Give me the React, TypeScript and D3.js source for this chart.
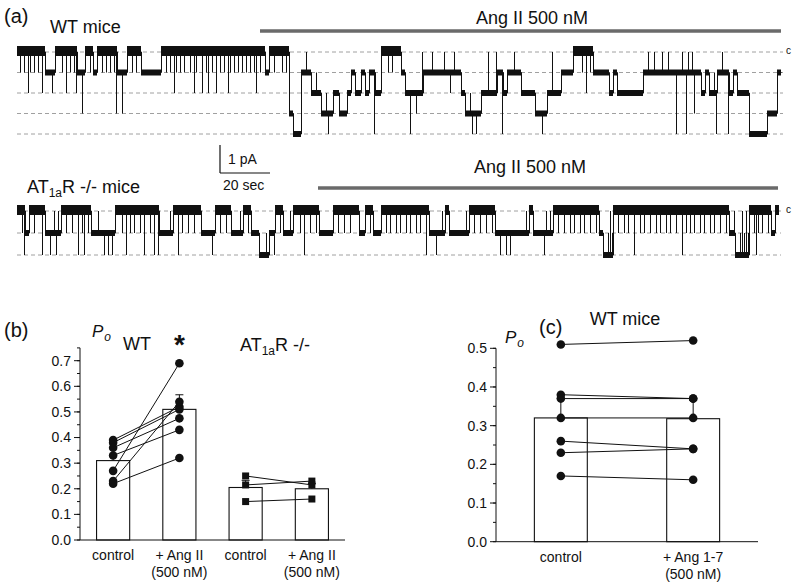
import React from "react";
import * as d3 from "d3";

// ---------- Data ----------
// Single-channel traces: one char per 2 px time bin, value = open-channel level (0 = closed "c").
// Runs of 2+ equal chars are dwells; a single char is a brief opening/closing spike from the current dwell.
const WT_TRACE = [
  "0101021010", "1020111210", "0010201012", "1131001011", "0010101013",
  "1131100101", "0011111111", "1100101021", "0101001021", "0020120102",
  "0101021010", "1010101012", "0100110010", "0010103344", "4411011221",
  "2233243322", "2333322112", "2211221142", "2200010100", "0011224223",
  "2201111011", "1110112101", "1122332434", "3322202220", "1142211101",
  "1122222223", "3343322022", "2211111100", "0010201011", "1111112211",
  "2222222222", "2221101101", "1101101114", "1101401031", "1122112214",
  "1101142211", "2222224444", "4444433333", "11",
].join("");

const AT1_TRACE = [
  "0012110010", "0020112102", "0100100100", "2012010111", "0112121210",
  "0010201010", "0102001020", "2111110100", "2010010010", "0011111210",
  "0100100111", "1010010111", "1222121120", "0101110100", "0102001001",
  "0111111100", "1001001000", "0111001011", "1100101001", "0100101001",
  "0100201112", "1101001111", "1111010010", "0100100101", "1211212111",
  "1111010011", "1112010100", "1001001010", "0101001001", "0112210100",
  "1001010020", "0101001001", "0100101001", "0020101010", "0101001010",
  "0100101102", "2101010012", "1010010110", "0",
].join("");

// Panel (b)
const bCategories = ["WT control", "WT AngII", "AT1 control", "AT1 AngII"];
const bMeans = [0.31, 0.51, 0.205, 0.2];
const bErrors = [0.025, 0.057, 0.028, 0.02];
const wtControl = [0.39, 0.38, 0.36, 0.33, 0.27, 0.23, 0.22];
const wtAngII = [0.52, 0.51, 0.475, 0.43, 0.69, 0.54, 0.32];
const at1Control = [0.25, 0.215, 0.15];
const at1AngII = [0.215, 0.23, 0.16];
const bTicks = [0, 0.1, 0.2, 0.3, 0.4, 0.5, 0.6, 0.7];
const bLabels = [
  ["control", ""],
  ["+ Ang II", "(500 nM)"],
  ["control", ""],
  ["+ Ang II", "(500 nM)"],
];

// Panel (c)
const cCategories = ["control", "Ang 1-7"];
const cMeans = [0.32, 0.318];
const cErrors = [0.05, 0.048];
const cControl = [0.51, 0.38, 0.37, 0.32, 0.26, 0.23, 0.17];
const cAng17 = [0.52, 0.37, 0.37, 0.32, 0.24, 0.24, 0.16];
const cTicks = [0, 0.1, 0.2, 0.3, 0.4, 0.5];
const cLabels = [
  ["control", ""],
  ["+ Ang 1-7", "(500 nM)"],
];

const FONT = "'Liberation Sans', Arial, Helvetica, sans-serif";
const INK = "#111";

function runsOf(arr: number[]) {
  const runs: { s: number; e: number; l: number }[] = [];
  let s = 0;
  for (let i = 1; i <= arr.length; i++) {
    if (i === arr.length || arr[i] !== arr[s]) {
      runs.push({ s, e: i, l: arr[s] });
      s = i;
    }
  }
  return runs;
}

const snap = (v: number) => Math.round(v) + 0.5;

// ---------- Trace component ----------
function Trace({ data, x0, x1, yTop, yBottom, nLevels, band0, band }: any) {
  const levels: number[] = data.split("").map((c: string) => +c);
  const n = levels.length;
  const x = d3.scaleLinear().domain([0, n]).range([x0, x1]);
  const y = d3.scaleLinear().domain([0, nLevels - 1]).range([yTop, yBottom]);

  // dwell (base) level for every bin: single-bin excursions keep the previous dwell level
  const raw = runsOf(levels);
  const base: number[] = new Array(n);
  let cur = raw[0].l;
  raw.forEach((r, i) => {
    if (r.e - r.s >= 2 || i === 0 || i === raw.length - 1) cur = r.l;
    for (let k = r.s; k < r.e; k++) base[k] = cur;
  });
  const dwells = runsOf(base);

  const dwellPath = d3.path();
  dwells.forEach((r, i) => {
    const xs = snap(x(r.s));
    if (i === 0) dwellPath.moveTo(xs, y(r.l));
    else dwellPath.lineTo(xs, y(r.l));
    dwellPath.lineTo(snap(x(r.e)), y(r.l));
  });
  const spikePath = d3.path();
  levels.forEach((l, i) => {
    if (l !== base[i]) {
      const xc = snap(x(i + 0.5));
      spikePath.moveTo(xc, y(base[i]));
      spikePath.lineTo(xc, y(l));
    }
  });

  return (
    <g>
      {d3.range(nLevels).map((l) => (
        <line
          key={l}
          x1={x0}
          x2={x1 + 2}
          y1={y(l)}
          y2={y(l)}
          stroke="#a0a0a0"
          strokeWidth={1}
          strokeDasharray="4,3"
        />
      ))}
      {dwells.map((b, i) => {
        const h = b.l === 0 ? band0 : band;
        return (
          <rect
            key={i}
            x={x(b.s)}
            width={x(b.e) - x(b.s)}
            y={y(b.l) - h / 2 - (b.l === 0 ? 1 : 0)}
            height={h}
            fill={INK}
          />
        );
      })}
      <path d={dwellPath.toString()} fill="none" stroke={INK} strokeWidth={1} />
      <path d={spikePath.toString()} fill="none" stroke={INK} strokeWidth={1} />
    </g>
  );
}

function YAxis({ scale, x, ticks, top, majorLen, minorLen, fontSize }: any) {
  const minor = d3.range(0, top + 1e-9, 0.05).map((v) => +v.toFixed(2));
  return (
    <g>
      <line x1={x} x2={x} y1={scale(0)} y2={scale(top)} stroke={INK} strokeWidth={1} />
      {minor.map((v: number) => (
        <line key={"m" + v} x1={x - minorLen} x2={x} y1={scale(v)} y2={scale(v)} stroke={INK} strokeWidth={1} />
      ))}
      {ticks.map((v: number) => (
        <g key={v}>
          <line x1={x - majorLen} x2={x} y1={scale(v)} y2={scale(v)} stroke={INK} strokeWidth={1} />
          <text x={x - majorLen - 3} y={scale(v)} dy="0.35em" textAnchor="end" fontSize={fontSize} fill={INK}>
            {v.toFixed(1)}
          </text>
        </g>
      ))}
    </g>
  );
}

function Po({ x, y }: any) {
  return (
    <text x={x} y={y} fontSize={17} fontStyle="italic" fill={INK}>
      P
      <tspan fontSize={12} dy={4} dx={1}>
        o
      </tspan>
    </text>
  );
}

export default function App() {
  // ----- panel (b) scales -----
  const bx = d3.scaleBand().domain(bCategories).range([80, 345]).paddingInner(0.5).paddingOuter(0.25);
  const by = d3.scaleLinear().domain([0, 0.7]).range([540, 360.7]);
  const bw = bx.bandwidth();
  const bc = (k: string) => (bx(k) as number) + bw / 2;

  // ----- panel (c) scales -----
  const cx = d3.scaleBand().domain(cCategories).range([496, 758]).paddingInner(0.6).paddingOuter(0.29);
  const cy = d3.scaleLinear().domain([0, 0.5]).range([541.7, 348.3]);
  const cw = cx.bandwidth();
  const cc = (k: string) => (cx(k) as number) + cw / 2;

  const sq = 7;

  return (
    <svg width={800} height={586} style={{ position: "absolute", left: 0, top: 0, background: "#fff" }} fontFamily={FONT}>
      <rect width={800} height={586} fill="#fff" />
      {/* ---------- Panel (a) ---------- */}
      <text x={4} y={23} fontSize={20} fill={INK}>(a)</text>
      <text x={50} y={33} fontSize={18} fill={INK}>WT mice</text>
      <text x={532} y={24} fontSize={18} textAnchor="middle" fill={INK}>Ang II 500 nM</text>
      <line x1={260} x2={781} y1={31} y2={31} stroke="#6a6a6a" strokeWidth={3.5} />
      <Trace data={WT_TRACE} x0={17} x1={781} yTop={52} yBottom={134} nLevels={5} band0={10} band={6} />
      <text x={786} y={54} fontSize={10} fill={INK}>c</text>

      {/* scale bar */}
      <line x1={220} x2={220} y1={145} y2={173} stroke={INK} strokeWidth={1.2} />
      <line x1={220} x2={270} y1={173} y2={173} stroke={INK} strokeWidth={1.2} />
      <text x={228} y={164} fontSize={14} fill={INK}>1 pA</text>
      <text x={223} y={190} fontSize={14} fill={INK}>20 sec</text>

      <text x={27} y={193} fontSize={18} fill={INK}>
        AT
        <tspan fontSize={12} dy={4}>1a</tspan>
        <tspan dy={-4}>R  -/- mice</tspan>
      </text>
      <text x={530} y={173} fontSize={18} textAnchor="middle" fill={INK}>Ang II 500 nM</text>
      <line x1={318} x2={778} y1={188} y2={188} stroke="#6a6a6a" strokeWidth={3.5} />
      <Trace data={AT1_TRACE} x0={17} x1={779} yTop={211} yBottom={255} nLevels={3} band0={10} band={6} />
      <text x={786} y={213} fontSize={10} fill={INK}>c</text>

      {/* ---------- Panel (b) ---------- */}
      <text x={4} y={337} fontSize={20} fill={INK}>(b)</text>
      <Po x={92} y={337} />
      <text x={123} y={350} fontSize={18} fill={INK}>WT</text>
      <text x={bc("WT AngII")} y={354} fontSize={28} fontWeight="bold" textAnchor="middle" fill={INK}>*</text>
      <text x={240} y={351} fontSize={18} fill={INK}>
        AT
        <tspan fontSize={12} dy={4}>1a</tspan>
        <tspan dy={-4}>R  -/-</tspan>
      </text>

      {bCategories.map((k, i) => (
        <g key={k}>
          <line x1={bc(k)} x2={bc(k)} y1={by(bMeans[i])} y2={by(bMeans[i] + bErrors[i])} stroke={INK} strokeWidth={1} />
          <line
            x1={bc(k) - 4}
            x2={bc(k) + 4}
            y1={by(bMeans[i] + bErrors[i])}
            y2={by(bMeans[i] + bErrors[i])}
            stroke={INK}
            strokeWidth={1}
          />
          <rect x={bx(k)} y={by(bMeans[i])} width={bw} height={by(0) - by(bMeans[i])} fill="none" stroke={INK} strokeWidth={1.1} />
        </g>
      ))}
      {wtControl.map((v, i) => (
        <line key={"wl" + i} x1={bc("WT control")} x2={bc("WT AngII")} y1={by(v)} y2={by(wtAngII[i])} stroke={INK} strokeWidth={1} />
      ))}
      {wtControl.map((v, i) => (
        <circle key={"wc" + i} cx={bc("WT control")} cy={by(v)} r={4.3} fill={INK} />
      ))}
      {wtAngII.map((v, i) => (
        <circle key={"wa" + i} cx={bc("WT AngII")} cy={by(v)} r={4.3} fill={INK} />
      ))}
      {at1Control.map((v, i) => (
        <line key={"al" + i} x1={bc("AT1 control")} x2={bc("AT1 AngII")} y1={by(v)} y2={by(at1AngII[i])} stroke={INK} strokeWidth={1} />
      ))}
      {at1Control.map((v, i) => (
        <rect key={"ac" + i} x={bc("AT1 control") - sq / 2} y={by(v) - sq / 2} width={sq} height={sq} fill={INK} />
      ))}
      {at1AngII.map((v, i) => (
        <rect key={"aa" + i} x={bc("AT1 AngII") - sq / 2} y={by(v) - sq / 2} width={sq} height={sq} fill={INK} />
      ))}

      <YAxis scale={by} x={80} ticks={bTicks} top={0.75} majorLen={6} minorLen={3} fontSize={14} />
      <line x1={80} x2={345} y1={by(0)} y2={by(0)} stroke={INK} strokeWidth={1} />

      {bCategories.map((k, i) => (
        <g key={"lab" + k}>
          <text x={bc(k)} y={560} fontSize={14} textAnchor="middle" fill={INK}>{bLabels[i][0]}</text>
          {bLabels[i][1] && (
            <text x={bc(k)} y={577} fontSize={14} textAnchor="middle" fill={INK}>{bLabels[i][1]}</text>
          )}
        </g>
      ))}

      {/* ---------- Panel (c) ---------- */}
      <text x={539} y={334} fontSize={20} fill={INK}>(c)</text>
      <text x={625} y={325} fontSize={18} textAnchor="middle" fill={INK}>WT mice</text>
      <Po x={505} y={343} />

      {cCategories.map((k, i) => (
        <g key={k}>
          <line x1={cc(k)} x2={cc(k)} y1={cy(cMeans[i])} y2={cy(cMeans[i] + cErrors[i])} stroke={INK} strokeWidth={1} />
          <line
            x1={cc(k) - 4}
            x2={cc(k) + 4}
            y1={cy(cMeans[i] + cErrors[i])}
            y2={cy(cMeans[i] + cErrors[i])}
            stroke={INK}
            strokeWidth={1}
          />
          <rect x={cx(k)} y={cy(cMeans[i])} width={cw} height={cy(0) - cy(cMeans[i])} fill="none" stroke={INK} strokeWidth={1.1} />
        </g>
      ))}
      {cControl.map((v, i) => (
        <line key={"cl" + i} x1={cc("control")} x2={cc("Ang 1-7")} y1={cy(v)} y2={cy(cAng17[i])} stroke={INK} strokeWidth={1} />
      ))}
      {cControl.map((v, i) => (
        <circle key={"cc" + i} cx={cc("control")} cy={cy(v)} r={4.3} fill={INK} />
      ))}
      {cAng17.map((v, i) => (
        <circle key={"ca" + i} cx={cc("Ang 1-7")} cy={cy(v)} r={4.3} fill={INK} />
      ))}

      <YAxis scale={cy} x={496} ticks={cTicks} top={0.5} majorLen={6} minorLen={3} fontSize={14} />
      <line x1={496} x2={758} y1={cy(0)} y2={cy(0)} stroke={INK} strokeWidth={1} />
      {cCategories.map((k, i) => (
        <g key={"clab" + k}>
          <text x={cc(k)} y={562} fontSize={14} textAnchor="middle" fill={INK}>{cLabels[i][0]}</text>
          {cLabels[i][1] && (
            <text x={cc(k)} y={579} fontSize={14} textAnchor="middle" fill={INK}>{cLabels[i][1]}</text>
          )}
        </g>
      ))}
    </svg>
  );
}
